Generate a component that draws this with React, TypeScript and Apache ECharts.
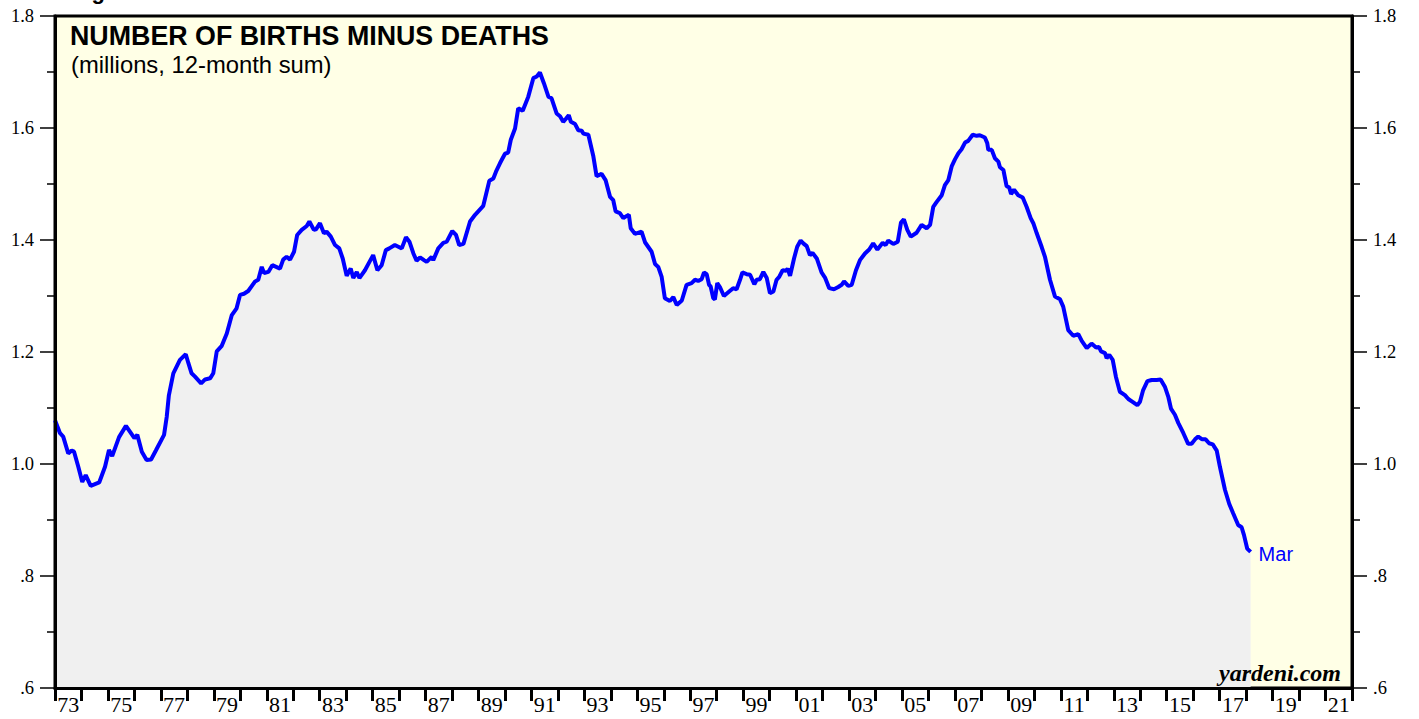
import React, { useEffect, useRef } from "react";
import * as echarts from "echarts";

// Decimal year of each reading (12-month sums, Jan 1973 – Mar 2018)
const years: number[] = [
  1973.0, 1973.19, 1973.31, 1973.5, 1973.63, 1973.72, 1973.88, 1974.03, 1974.16, 1974.35,
  1974.67, 1974.89, 1975.04, 1975.16, 1975.42, 1975.68, 1976.0, 1976.11, 1976.28, 1976.46,
  1976.63, 1976.82, 1977.12, 1977.22, 1977.3, 1977.47, 1977.72, 1977.94, 1978.04, 1978.16,
  1978.29, 1978.52, 1978.67, 1978.86, 1978.98, 1979.11, 1979.3, 1979.49, 1979.68, 1979.86,
  1979.99, 1980.14, 1980.3, 1980.56, 1980.68, 1980.81, 1980.9, 1981.06, 1981.21, 1981.5,
  1981.62, 1981.75, 1981.88, 1982.03, 1982.15, 1982.32, 1982.51, 1982.61, 1982.78, 1982.86,
  1983.01, 1983.16, 1983.26, 1983.42, 1983.58, 1983.74, 1983.87, 1984.02, 1984.17, 1984.27,
  1984.4, 1984.5, 1984.71, 1984.87, 1985.02, 1985.18, 1985.34, 1985.5, 1985.63, 1985.84,
  1985.97, 1986.1, 1986.26, 1986.39, 1986.54, 1986.66, 1986.79, 1986.94, 1987.04, 1987.23,
  1987.29, 1987.48, 1987.67, 1987.8, 1988.01, 1988.15, 1988.27, 1988.43, 1988.68, 1988.87,
  1989.18, 1989.41, 1989.56, 1989.66, 1989.81, 1990.0, 1990.12, 1990.22, 1990.38, 1990.5,
  1990.67, 1990.88, 1991.07, 1991.2, 1991.32, 1991.47, 1991.64, 1991.76, 1991.95, 1992.08,
  1992.2, 1992.31, 1992.41, 1992.49, 1992.65, 1992.77, 1992.9, 1992.96, 1993.15, 1993.34,
  1993.46, 1993.65, 1993.8, 1993.97, 1994.09, 1994.18, 1994.34, 1994.47, 1994.6, 1994.68,
  1994.75, 1994.91, 1995.16, 1995.29, 1995.54, 1995.67, 1995.79, 1995.92, 1996.04, 1996.23,
  1996.36, 1996.49, 1996.68, 1996.86, 1997.05, 1997.18, 1997.3, 1997.43, 1997.52, 1997.62,
  1997.71, 1997.77, 1997.87, 1997.93, 1998.02, 1998.12, 1998.27, 1998.47, 1998.62, 1998.75,
  1998.88, 1998.97, 1999.13, 1999.26, 1999.42, 1999.51, 1999.63, 1999.76, 1999.89, 2000.01,
  2000.14, 2000.26, 2000.36, 2000.49, 2000.62, 2000.68, 2000.77, 2000.92, 2001.04, 2001.17,
  2001.27, 2001.4, 2001.52, 2001.62, 2001.78, 2001.96, 2002.09, 2002.25, 2002.43, 2002.59,
  2002.72, 2002.81, 2002.97, 2003.1, 2003.26, 2003.41, 2003.6, 2003.76, 2003.91, 2004.07,
  2004.27, 2004.38, 2004.48, 2004.67, 2004.84, 2004.96, 2005.07, 2005.2, 2005.33, 2005.55,
  2005.74, 2005.93, 2006.06, 2006.18, 2006.31, 2006.5, 2006.62, 2006.75, 2006.88, 2007.0,
  2007.13, 2007.25, 2007.38, 2007.5, 2007.67, 2007.82, 2007.94, 2008.13, 2008.22, 2008.26,
  2008.39, 2008.51, 2008.64, 2008.7, 2008.83, 2008.95, 2009.05, 2009.12, 2009.23, 2009.39,
  2009.56, 2009.71, 2009.86, 2009.96, 2010.09, 2010.28, 2010.4, 2010.59, 2010.78, 2010.97,
  2011.09, 2011.28, 2011.47, 2011.66, 2011.79, 2011.98, 2012.16, 2012.33, 2012.44, 2012.52,
  2012.67, 2012.73, 2012.83, 2012.96, 2013.08, 2013.23, 2013.42, 2013.55, 2013.71, 2013.89,
  2013.99, 2014.11, 2014.27, 2014.43, 2014.62, 2014.77, 2014.93, 2015.06, 2015.16, 2015.31,
  2015.44, 2015.63, 2015.81, 2015.94, 2016.07, 2016.19, 2016.34, 2016.47, 2016.6, 2016.74,
  2016.89, 2017.01, 2017.2, 2017.36, 2017.51, 2017.7, 2017.83, 2017.92, 2018.04, 2018.17,
];

// Births minus deaths, millions, 12-month sum
const values: number[] = [
  1.078, 1.055, 1.049, 1.019, 1.024, 1.022, 0.995, 0.968, 0.98, 0.961,
  0.967, 0.995, 1.025, 1.014, 1.048, 1.068, 1.046, 1.052, 1.022, 1.007,
  1.008, 1.025, 1.052, 1.084, 1.122, 1.162, 1.186, 1.196, 1.18, 1.162,
  1.156, 1.144, 1.151, 1.153, 1.162, 1.201, 1.211, 1.233, 1.266, 1.278,
  1.302, 1.304, 1.309, 1.326, 1.329, 1.352, 1.341, 1.343, 1.355, 1.349,
  1.365, 1.37, 1.365, 1.379, 1.409, 1.418, 1.425, 1.433, 1.418, 1.419,
  1.43, 1.412, 1.415, 1.406, 1.391, 1.385, 1.367, 1.336, 1.349, 1.332,
  1.343, 1.332, 1.346, 1.36, 1.373, 1.346, 1.355, 1.382, 1.385, 1.391,
  1.388, 1.385, 1.405, 1.397, 1.376, 1.363, 1.369, 1.364, 1.361, 1.37,
  1.364, 1.385, 1.395, 1.397, 1.416, 1.409, 1.391, 1.393, 1.433, 1.445,
  1.461, 1.506, 1.51, 1.522, 1.537, 1.554, 1.556, 1.579, 1.599, 1.635,
  1.631, 1.656, 1.689, 1.692, 1.699, 1.68, 1.656, 1.653, 1.626, 1.621,
  1.611, 1.617, 1.623, 1.611, 1.607, 1.596, 1.595, 1.59, 1.588, 1.549,
  1.514, 1.518, 1.507, 1.477, 1.471, 1.451, 1.448, 1.439, 1.443, 1.445,
  1.421, 1.411, 1.415, 1.396, 1.379, 1.357, 1.352, 1.334, 1.296, 1.291,
  1.298, 1.284, 1.292, 1.32, 1.323, 1.329, 1.327, 1.33, 1.342, 1.339,
  1.32, 1.317, 1.296, 1.294, 1.323, 1.316, 1.3, 1.308, 1.314, 1.312,
  1.329, 1.342, 1.339, 1.338, 1.321, 1.329, 1.33, 1.343, 1.332, 1.305,
  1.308, 1.329, 1.334, 1.346, 1.345, 1.349, 1.336, 1.367, 1.388, 1.399,
  1.394, 1.389, 1.373, 1.377, 1.367, 1.342, 1.333, 1.314, 1.312, 1.316,
  1.32, 1.326, 1.318, 1.32, 1.346, 1.364, 1.376, 1.383, 1.394, 1.383,
  1.395, 1.391, 1.399, 1.393, 1.397, 1.431, 1.437, 1.418, 1.406, 1.413,
  1.427, 1.421, 1.427, 1.459, 1.468, 1.48, 1.498, 1.507, 1.532, 1.544,
  1.555, 1.562, 1.574, 1.577, 1.588, 1.586, 1.587, 1.583, 1.573, 1.561,
  1.561, 1.546, 1.54, 1.53, 1.525, 1.496, 1.494, 1.482, 1.49, 1.48,
  1.476, 1.459, 1.439, 1.43, 1.412, 1.387, 1.37, 1.329, 1.299, 1.294,
  1.281, 1.239, 1.229, 1.232, 1.22, 1.207, 1.215, 1.208, 1.209, 1.201,
  1.198, 1.189, 1.195, 1.186, 1.156, 1.129, 1.123, 1.116, 1.111, 1.105,
  1.111, 1.132, 1.148, 1.15, 1.15, 1.151, 1.138, 1.12, 1.099, 1.088,
  1.073, 1.055, 1.036, 1.036, 1.044, 1.049, 1.044, 1.044, 1.037, 1.035,
  1.024, 0.995, 0.954, 0.929, 0.912, 0.891, 0.887, 0.873, 0.849, 0.843,
];

const endLabelText = "Mar";
const titleText = "NUMBER OF BIRTHS MINUS DEATHS";
const subtitleText = "(millions, 12-month sum)";
const sourceText = "yardeni.com";
const figureText = "Figure";

const X_MIN = 1973;
const X_MAX = 2022;
const Y_MIN = 0.6;
const Y_MAX = 1.8;

const yLabel = (v: number) => {
  const s = v.toFixed(1);
  return s.startsWith("0") ? s.slice(1) : s;
};

export default function App() {
  const ref = useRef<HTMLDivElement>(null);

  useEffect(() => {
    if (!ref.current) return;
    const chart = echarts.init(ref.current, null, { renderer: "svg" });
    const data = years.map((y, i) => [y, values[i]]);
    const serif = "'Liberation Serif', 'Times New Roman', serif";
    const sans = "'Liberation Sans', Arial, Helvetica, sans-serif";

    const yAxisCommon = (position: "left" | "right") => ({
      type: "value",
      position,
      min: Y_MIN,
      max: Y_MAX,
      interval: 0.2,
      z: 10,
      axisLine: { show: true, lineStyle: { color: "#000", width: 3 } },
      axisTick: { show: true, inside: false, length: 15, lineStyle: { color: "#000", width: 1.5 } },
      minorTick: { show: true, splitNumber: 2, length: 8, lineStyle: { color: "#000", width: 1.5 } },
      splitLine: { show: false },
      minorSplitLine: { show: false },
      axisLabel: {
        formatter: yLabel,
        color: "#000",
        fontFamily: serif,
        fontSize: 18.5,
        margin: 21,
      },
    });

    chart.setOption({
      animation: false,
      backgroundColor: "#fff",
      grid: {
        left: 55,
        right: 67,
        top: 16,
        bottom: 31,
        show: true,
        backgroundColor: "#FFFFE6",
        borderColor: "#000",
        borderWidth: 3,
      },
      xAxis: [
        {
          type: "value",
          min: X_MIN,
          max: X_MAX,
          interval: 1,
          position: "bottom",
          z: 10,
          axisLine: { show: true, lineStyle: { color: "#000", width: 3 } },
          axisTick: { show: true, inside: false, length: 13, lineStyle: { color: "#000", width: 3 } },
          axisLabel: { show: false },
          splitLine: { show: false },
        },
        {
          type: "value",
          min: X_MIN,
          max: X_MAX,
          interval: 0.5,
          position: "bottom",
          offset: 0,
          axisLine: { show: false },
          axisTick: { show: false },
          splitLine: { show: false },
          axisLabel: {
            show: true,
            showMinLabel: true,
            showMaxLabel: true,
            color: "#000",
            fontFamily: serif,
            fontSize: 22,
            margin: 5,
            formatter: (v: number) => {
              const r = Math.round(v * 2) / 2;
              if (Math.abs((r % 2) - 1.5) < 1e-6) {
                const yr = Math.floor(r) % 100;
                return String(yr).padStart(2, "0");
              }
              return "";
            },
          },
        },
      ],
      yAxis: [yAxisCommon("left"), yAxisCommon("right")],
      graphic: [
        {
          type: "text",
          x: 72,
          y: -9,
          style: {
            text: figureText,
            font: `bold 22px ${sans}`,
            fill: "#000",
            verticalAlign: "middle",
          },
        },
        {
          type: "text",
          x: 70,
          y: 35.5,
          z: 20,
          style: {
            text: titleText,
            font: `bold 26.8px ${sans}`,
            fill: "#000",
            verticalAlign: "middle",
          },
        },
        {
          type: "text",
          x: 71,
          y: 64,
          z: 20,
          style: {
            text: subtitleText,
            font: `23.8px ${sans}`,
            fill: "#000",
            verticalAlign: "middle",
          },
        },
        {
          type: "text",
          x: 1341,
          y: 673,
          z: 20,
          style: {
            text: sourceText,
            font: `italic bold 24px ${serif}`,
            fill: "#000",
            align: "right",
            verticalAlign: "middle",
          },
        },
      ],
      series: [
        {
          type: "line",
          xAxisIndex: 0,
          yAxisIndex: 0,
          data,
          showSymbol: false,
          symbol: "none",
          smooth: false,
          z: 3,
          lineStyle: { color: "#0000FF", width: 4 },
          areaStyle: { color: "#F0F0F0", opacity: 1, origin: "start" },
          endLabel: {
            show: true,
            formatter: () => endLabelText,
            color: "#0000FF",
            fontFamily: sans,
            fontSize: 20,
            distance: 8,
            offset: [0, 2],
          },
        },
      ],
    });

    return () => chart.dispose();
  }, []);

  return (
    <div
      ref={ref}
      style={{ position: "fixed", left: 0, top: 0, width: 1419, height: 719, background: "#fff" }}
    />
  );
}
